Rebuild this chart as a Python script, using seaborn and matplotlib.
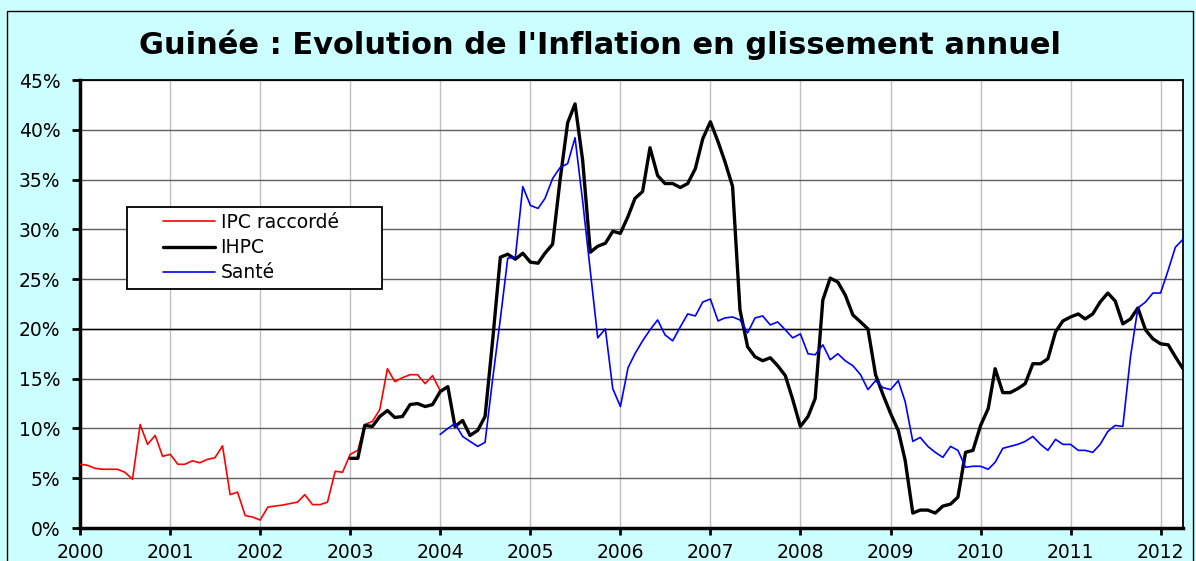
import numpy as np
import pandas as pd
import seaborn as sns
import matplotlib.pyplot as plt
import matplotlib.dates as mdates
from matplotlib.patches import Rectangle
from matplotlib.ticker import PercentFormatter, MultipleLocator

# -------------------------------
# Data (monthly, % year on year)
# -------------------------------
ipc_raccorde = [
    6.4, 6.3, 6.0, 5.9, 5.9, 5.9, 5.6, 4.9, 10.4, 8.4, 9.3, 7.2,        # 2000
    7.4, 6.4, 6.4, 6.75, 6.55, 6.9, 7.05, 8.25, 3.35, 3.6, 1.25, 1.1,   # 2001
    0.8, 2.1, 2.2, 2.3, 2.45, 2.6, 3.35, 2.35, 2.35, 2.6, 5.7, 5.6,     # 2002
    7.4, 7.8, 10.4, 10.7, 11.9, 16.0, 14.7, 15.1, 15.4, 15.4, 14.5, 15.3,  # 2003
    13.8,                                                               # 2004
]
ihpc = [
    7.0, 7.0, 10.3, 10.2, 11.2, 11.8, 11.1, 11.2, 12.4, 12.5, 12.2, 12.4,   # 2003
    13.7, 14.2, 10.2, 10.8, 9.3, 9.8, 11.2, 18.9, 27.2, 27.5, 27.0, 27.6,   # 2004
    26.7, 26.6, 27.6, 28.5, 34.9, 40.7, 42.6, 36.9, 27.7, 28.3, 28.6, 29.8, # 2005
    29.6, 31.3, 33.1, 33.8, 38.2, 35.4, 34.6, 34.6, 34.2, 34.6, 36.1, 39.1, # 2006
    40.8, 38.8, 36.8, 34.3, 21.9, 18.2, 17.2, 16.8, 17.1, 16.3, 15.3, 12.9, # 2007
    10.2, 11.2, 13.0, 22.9, 25.1, 24.7, 23.4, 21.4, 20.7, 20.0, 15.4, 13.4, # 2008
    11.5, 9.8, 6.8, 1.5, 1.8, 1.8, 1.5, 2.2, 2.4, 3.1, 7.6, 7.8,            # 2009
    10.3, 12.0, 16.0, 13.6, 13.6, 14.0, 14.5, 16.5, 16.5, 17.0, 19.7, 20.8, # 2010
    21.2, 21.5, 21.0, 21.5, 22.7, 23.6, 22.8, 20.5, 21.0, 22.1, 19.9, 19.0, # 2011
    18.5, 18.4, 17.2, 16.0,                                                 # 2012
]
sante = [
    9.4, 10.0, 10.5, 9.2, 8.7, 8.2, 8.6, 15.0, 21.0, 27.1, 27.2, 34.3,      # 2004
    32.4, 32.1, 33.1, 35.1, 36.2, 36.6, 39.2, 32.8, 25.8, 19.1, 20.0, 14.0, # 2005
    12.2, 16.1, 17.5, 18.8, 19.9, 20.9, 19.4, 18.8, 20.2, 21.5, 21.3, 22.7, # 2006
    23.0, 20.8, 21.1, 21.2, 20.9, 19.6, 21.1, 21.3, 20.4, 20.7, 19.9, 19.1, # 2007
    19.5, 17.5, 17.4, 18.4, 16.9, 17.5, 16.8, 16.3, 15.4, 13.9, 14.8, 14.1, # 2008
    13.9, 14.8, 12.7, 8.7, 9.1, 8.2, 7.6, 7.1, 8.2, 7.8, 6.1, 6.2,          # 2009
    6.2, 5.9, 6.6, 8.0, 8.2, 8.4, 8.7, 9.2, 8.4, 7.8, 8.9, 8.4,             # 2010
    8.4, 7.8, 7.8, 7.6, 8.4, 9.7, 10.3, 10.2, 17.2, 22.1, 22.7, 23.6,       # 2011
    23.6, 25.9, 28.2, 29.0,                                                 # 2012
]
debut = {"IPC raccordé": "2000-01", "IHPC": "2003-01", "Santé": "2004-01"}
couleurs = {"IPC raccordé": "#FF0000", "IHPC": "#000000", "Santé": "#0000FF"}
epaisseurs = {"IPC raccordé": 1.2, "IHPC": 2.4, "Santé": 1.2}
annees = list(range(2000, 2013))

series = {"IPC raccordé": ipc_raccorde, "IHPC": ihpc, "Santé": sante}
frames = []
for nom, vals in series.items():
    dates = pd.date_range(debut[nom], periods=len(vals), freq="MS")
    frames.append(pd.DataFrame({"date": dates, "valeur": vals, "serie": nom}))
df = pd.concat(frames, ignore_index=True)

# -------------------------------
# Figure
# -------------------------------
sns.set_style("white")
plt.rcParams["font.family"] = ["DejaVu Sans"]
for k in ["text.color", "axes.labelcolor", "xtick.color", "ytick.color"]:
    plt.rcParams[k] = "black"

fig = plt.figure(figsize=(11.96, 5.61), dpi=100, facecolor="#CCFFFF")
ax = fig.add_axes([80 / 1196, 1 - 528 / 561, 1103 / 1196, 448 / 561])
ax.set_facecolor("white")

for nom in series:
    sns.lineplot(data=df[df["serie"] == nom], x="date", y="valeur",
                 color=couleurs[nom], lw=epaisseurs[nom], label=nom, ax=ax,
                 zorder=3)

ax.set_xlim(pd.Timestamp("2000-01-01"), pd.Timestamp("2012-04-01"))
ax.set_ylim(0, 45)
ax.yaxis.set_major_locator(MultipleLocator(5))
ax.yaxis.set_major_formatter(PercentFormatter(decimals=0))
ax.set_xticks([pd.Timestamp(f"{a}-01-01") for a in annees])
ax.xaxis.set_major_formatter(mdates.DateFormatter("%Y"))
ax.set_xlabel("")
ax.set_ylabel("")

ax.yaxis.grid(True, color="#606060", lw=1)
ax.xaxis.grid(True, color="#C0C0C0", lw=1)
ax.axhline(20, color="black", lw=1, zorder=1)
ax.set_axisbelow(True)

for side in ["left", "bottom"]:
    ax.spines[side].set_linewidth(2.5)
    ax.spines[side].set_color("black")
for side in ["top", "right"]:
    ax.spines[side].set_linewidth(1.3)
    ax.spines[side].set_color("black")

ax.tick_params(axis="y", direction="out", length=6, width=2, pad=8,
               labelsize=13.5, left=True)
ax.tick_params(axis="x", direction="out", length=5, width=2, pad=6,
               labelsize=13.5, bottom=True)

# legend box drawn like the Excel one
ax.add_patch(Rectangle((0.0426, 0.5335), 0.2312, 0.183, transform=ax.transAxes,
                       facecolor="white", edgecolor="black", lw=1.3, zorder=4))
leg = ax.legend(loc="upper left", bbox_to_anchor=(0.0752, 0.703),
                frameon=False, fontsize=13.5, borderpad=0, labelspacing=0.33,
                handlelength=2.77, handletextpad=0.3, borderaxespad=0)
leg.set_zorder(5)

fig.text(0.502, 1 - 45 / 561, "Guinée : Evolution de l'Inflation en glissement annuel",
         ha="center", va="center", fontsize=22, fontweight="bold")

fig.patches.append(Rectangle((7 / 1196, -0.05), 1186 / 1196, 1.05 - 11.5 / 561,
                             transform=fig.transFigure, fill=False,
                             edgecolor="black", lw=1))

fig.savefig("out.png", dpi=100, facecolor=fig.get_facecolor())
